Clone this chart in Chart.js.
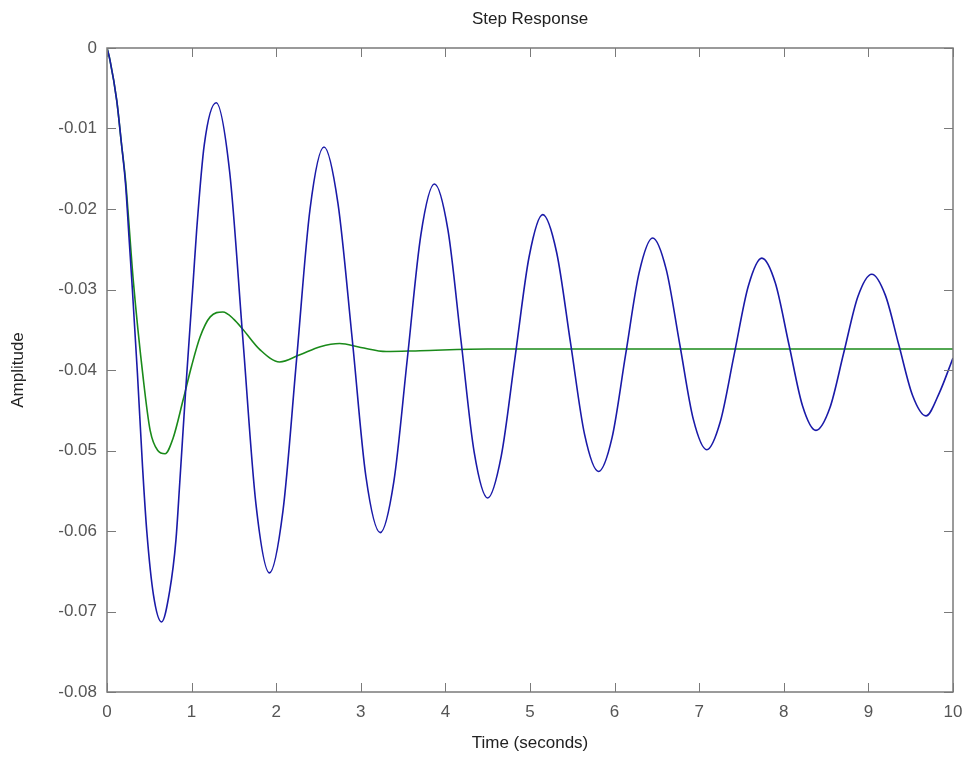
<!DOCTYPE html>
<html>
<head>
<meta charset="utf-8">
<title>Step Response</title>
<script src="https://cdn.jsdelivr.net/npm/chart.js@4"></script>
<style>
  body { margin: 0; background: #fff; }
</style>
</head>
<body>
<canvas id="grafico" width="963" height="760"></canvas>
<script>
// (time in seconds, amplitude)
const blueTime = [0, 0.035, 0.115, 0.17, 0.22, 0.26, 0.30, 0.36, 0.42, 0.47, 0.55, 0.645,
  0.74, 0.815, 0.86, 0.93, 1.02, 1.06, 1.15, 1.29,
  1.45, 1.605, 1.76, 1.92, 2.08, 2.24, 2.40, 2.565, 2.73, 2.90, 3.06, 3.23,
  3.39, 3.55, 3.71, 3.87, 4.03, 4.185, 4.34, 4.50, 4.66, 4.825, 4.99, 5.15,
  5.315, 5.48, 5.645, 5.81, 5.97, 6.13, 6.29, 6.45, 6.61, 6.77, 6.93, 7.09,
  7.25, 7.415, 7.58, 7.74, 7.90, 8.06, 8.22, 8.38, 8.545, 8.71, 8.875, 9.04,
  9.20, 9.36, 9.52, 9.68, 9.84, 10];
const blueAmp = [0, -0.0015, -0.0065, -0.0118, -0.0170, -0.0235, -0.0300, -0.0405, -0.0520, -0.0600, -0.0680, -0.0713,
  -0.0675, -0.0611, -0.0540, -0.0425, -0.0288, -0.0226, -0.0120, -0.0068,
  -0.0154, -0.0360, -0.0566, -0.0652, -0.0575, -0.0388, -0.0200, -0.0123, -0.0193, -0.0363, -0.0532, -0.0602,
  -0.0539, -0.0386, -0.0232, -0.0169, -0.0226, -0.0364, -0.0502, -0.0559, -0.0507, -0.0383, -0.0259, -0.0207,
  -0.0254, -0.0367, -0.0480, -0.0526, -0.0484, -0.0381, -0.0279, -0.0236, -0.0275, -0.0368, -0.0461, -0.0499,
  -0.0464, -0.0380, -0.0296, -0.0261, -0.0292, -0.0368, -0.0444, -0.0475, -0.0447, -0.0378, -0.0309, -0.0281,
  -0.0307, -0.0369, -0.0431, -0.0457, -0.0428, -0.0385];

const greenTime = [0, 0.035, 0.115, 0.17, 0.22, 0.25, 0.31, 0.43, 0.51, 0.60, 0.686, 0.78, 0.90, 1.00,
  1.10, 1.22, 1.37, 1.50, 1.61, 1.81, 2.04, 2.28, 2.52, 2.75, 3.0, 3.3, 3.7, 4.5, 10];
const greenAmp = [0, -0.0015, -0.0065, -0.0118, -0.0165, -0.0205, -0.0288, -0.0412, -0.0475, -0.0500, -0.0504, -0.0485, -0.0437, -0.0395,
  -0.0359, -0.0334, -0.0328, -0.0337, -0.0350, -0.0375, -0.0390, -0.0381, -0.0371, -0.0367, -0.0372, -0.0377, -0.0376, -0.0374, -0.0374];

const xTicks = [0, 1, 2, 3, 4, 5, 6, 7, 8, 9, 10];
const yTicks = [0, -0.01, -0.02, -0.03, -0.04, -0.05, -0.06, -0.07, -0.08];
const yTickLabels = ['0', '-0.01', '-0.02', '-0.03', '-0.04', '-0.05', '-0.06', '-0.07', '-0.08'];

const axisGray = '#7a7a7a';
const textGray = '#555555';
const fontFamily = 'Arial, "Liberation Sans", Helvetica, sans-serif';

function toPoints(ts, ys) {
  return ts.map((t, i) => ({x: t, y: ys[i]}));
}

// keep the axes box at the same place as the original figure
function fixHorizontal(h) {
  return scale => {
    scale.height = h;
    scale.paddingLeft = 0;
    scale.paddingRight = 10;
  };
}

// MATLAB style: tick marks pointing inward on all four sides
const innerTicks = {
  id: 'innerTicks',
  afterDraw(chart) {
    const {ctx, chartArea: a, scales} = chart;
    const len = 9;
    ctx.save();
    ctx.strokeStyle = axisGray;
    ctx.lineWidth = 1;
    ctx.beginPath();
    xTicks.forEach(v => {
      const px = Math.round(scales.x.getPixelForValue(v)) + 0.5;
      ctx.moveTo(px, a.bottom); ctx.lineTo(px, a.bottom - len);
      ctx.moveTo(px, a.top); ctx.lineTo(px, a.top + len);
    });
    yTicks.forEach(v => {
      const py = Math.round(scales.y.getPixelForValue(v)) + 0.5;
      ctx.moveTo(a.left, py); ctx.lineTo(a.left + len, py);
      ctx.moveTo(a.right, py); ctx.lineTo(a.right - len, py);
    });
    ctx.stroke();
    ctx.lineWidth = 1.5;
    ctx.strokeRect(a.left, a.top, a.right - a.left, a.bottom - a.top);
    ctx.restore();
  }
};

const config = {
  type: 'line',
  data: {
    datasets: [
      {
        label: 'sys1',
        data: toPoints(blueTime, blueAmp),
        borderColor: '#1a1aa8',
        borderWidth: 1.6,
        pointRadius: 0,
        cubicInterpolationMode: 'monotone',
        fill: false
      },
      {
        label: 'sys2',
        data: toPoints(greenTime, greenAmp),
        borderColor: '#1a8a1a',
        borderWidth: 1.6,
        pointRadius: 0,
        cubicInterpolationMode: 'monotone',
        fill: false
      }
    ]
  },
  options: {
    responsive: false,
    animation: false,
    layout: {
      padding: 0
    },
    scales: {
      x: {
        type: 'linear',
        min: 0,
        max: 10,
        afterBuildTicks(scale) {
          scale.ticks = xTicks.map(v => ({value: v}));
        },
        afterFit: fixHorizontal(68),
        grid: {display: false, drawTicks: false},
        border: {display: false},
        ticks: {
          color: textGray,
          padding: 10,
          maxRotation: 0,
          font: {family: fontFamily, size: 17},
          callback: v => String(v)
        },
        title: {
          display: true,
          text: 'Time (seconds)',
          color: '#222',
          font: {family: fontFamily, size: 17},
          padding: {top: 0, bottom: 6}
        }
      },
      // top axis only carries the plot title, centred over the axes box
      x2: {
        type: 'linear',
        position: 'top',
        min: 0,
        max: 10,
        afterFit: fixHorizontal(48),
        grid: {display: false, drawTicks: false},
        border: {display: false},
        ticks: {display: false},
        title: {
          display: true,
          text: 'Step Response',
          color: '#222',
          font: {family: fontFamily, size: 17},
          padding: {top: 9, bottom: 0}
        }
      },
      y: {
        type: 'linear',
        min: -0.08,
        max: 0,
        afterBuildTicks(scale) {
          scale.ticks = yTicks.map(v => ({value: v}));
        },
        afterFit(scale) { scale.width = 107; },
        grid: {display: false, drawTicks: false},
        border: {display: false},
        ticks: {
          color: textGray,
          padding: 10,
          font: {family: fontFamily, size: 17},
          callback: v => yTickLabels[yTicks.findIndex(t => Math.abs(t - v) < 1e-9)]
        },
        title: {
          display: true,
          text: 'Amplitude',
          color: '#222',
          font: {family: fontFamily, size: 17},
          padding: {top: 8, bottom: 0}
        }
      }
    },
    plugins: {
      legend: {display: false},
      tooltip: {enabled: false},
      title: {display: false}
    }
  },
  plugins: [innerTicks]
};

const myChart = new Chart(document.getElementById('grafico'), config);
</script>
</body>
</html>
